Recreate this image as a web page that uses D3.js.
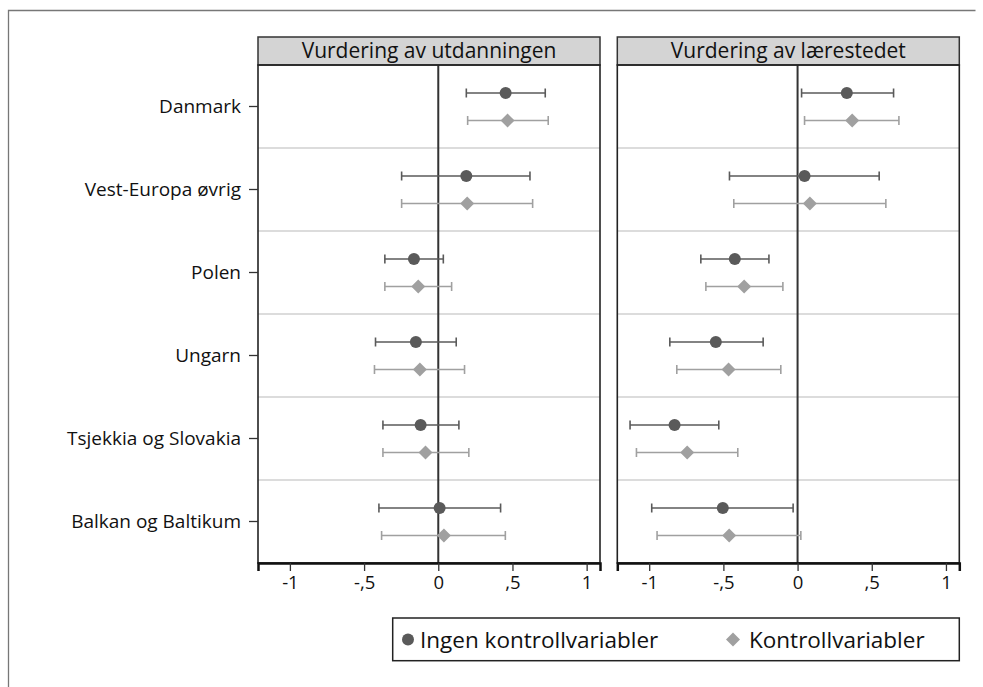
<!DOCTYPE html>
<html>
<head>
<meta charset="utf-8">
<title>Vurdering</title>
<script src="https://d3js.org/d3.v7.min.js"></script>
<style>
  body { margin: 0; background: #fff; }
  text { font-family: "Open Sans", sans-serif; fill: #111; }
</style>
</head>
<body>
<svg id="chart"></svg>
<script>
// rows, top to bottom
var countries = ["Danmark", "Vest-Europa øvrig", "Polen", "Ungarn", "Tsjekkia og Slovakia", "Balkan og Baltikum"];
var panelTitles = ["Vurdering av utdanningen", "Vurdering av lærestedet"];
var seriesNames = ["Ingen kontrollvariabler", "Kontrollvariabler"];
var xTicks = [-1, -0.5, 0, 0.5, 1];

// Vurdering av utdanningen: estimate, lower, upper
var utdEst0 = [0.454, 0.189, -0.164, -0.151, -0.119, 0.009];
var utdLo0  = [0.189, -0.247, -0.360, -0.423, -0.373, -0.400];
var utdHi0  = [0.721, 0.618, 0.034, 0.121, 0.139, 0.420];
var utdEst1 = [0.467, 0.195, -0.135, -0.124, -0.086, 0.038];
var utdLo1  = [0.198, -0.247, -0.360, -0.430, -0.373, -0.382];
var utdHi1  = [0.741, 0.636, 0.090, 0.177, 0.206, 0.452];

// Vurdering av lærestedet
var larEst0 = [0.332, 0.047, -0.423, -0.551, -0.829, -0.504];
var larLo0  = [0.027, -0.459, -0.652, -0.861, -1.129, -0.983];
var larHi0  = [0.647, 0.550, -0.193, -0.232, -0.531, -0.030];
var larEst1 = [0.368, 0.083, -0.360, -0.465, -0.744, -0.461];
var larLo1  = [0.047, -0.430, -0.618, -0.814, -1.086, -0.947];
var larHi1  = [0.683, 0.595, -0.099, -0.113, -0.403, 0.022];

var width = 983, height = 687;
var svg = d3.select("#chart").attr("width", width).attr("height", height);

// outer frame (left + top)
svg.append("path")
  .attr("d", "M8.5," + height + "V10.5H975.5")
  .attr("fill", "none").attr("stroke", "#777").attr("stroke-width", 1.3);

var plotTop = 65, plotBottom = 563, stripTop = 37;
var panelX = [[258, 600], [617.3, 959.3]];
var darkCol = "#5a5a5a", lightCol = "#a0a0a0";

var y = d3.scaleBand().domain(countries).range([plotTop, plotBottom]);

function series(est, lo, hi) {
  return countries.map(function (c, i) { return { c: c, est: est[i], lo: lo[i], hi: hi[i] }; });
}
var panels = [
  [series(utdEst0, utdLo0, utdHi0), series(utdEst1, utdLo1, utdHi1)],
  [series(larEst0, larLo0, larHi0), series(larEst1, larLo1, larHi1)]
];

var fmt = function (d) { return String(d).replace("0.", ","); };
var diamond = d3.symbol().type(d3.symbolDiamond2).size(125);

panels.forEach(function (pdata, p) {
  var x0 = panelX[p][0], x1 = panelX[p][1];
  var x = d3.scaleLinear().domain([-1.215, 1.09]).range([x0, x1]);
  var g = svg.append("g");

  // strip
  g.append("rect").attr("x", x0).attr("y", stripTop).attr("width", x1 - x0).attr("height", plotTop - stripTop)
    .attr("fill", "#d4d4d4").attr("stroke", "#333").attr("stroke-width", 1.5);
  g.append("text").attr("x", (x0 + x1) / 2).attr("y", plotTop - 7).attr("text-anchor", "middle")
    .style("font-size", "21px").text(panelTitles[p]);

  // row separators
  g.selectAll(".sep").data(countries.slice(1)).enter().append("line")
    .attr("x1", x0).attr("x2", x1)
    .attr("y1", function (d) { return y(d); }).attr("y2", function (d) { return y(d); })
    .attr("stroke", "#dcdcdc").attr("stroke-width", 2);

  // zero line
  g.append("line").attr("x1", x(0)).attr("x2", x(0)).attr("y1", plotTop).attr("y2", plotBottom)
    .attr("stroke", "#333").attr("stroke-width", 2);

  // panel border
  g.append("rect").attr("x", x0).attr("y", plotTop).attr("width", x1 - x0).attr("height", plotBottom - plotTop)
    .attr("fill", "none").attr("stroke", "#222").attr("stroke-width", 1.6);

  // x axis
  var ax = g.append("g").attr("transform", "translate(0," + plotBottom + ")")
    .call(d3.axisBottom(x).tickValues(xTicks).tickFormat(fmt).tickSize(8).tickPadding(5));
  ax.select(".domain").attr("stroke", "#111").attr("stroke-width", 2.5);
  ax.selectAll(".tick line").attr("stroke", "#333").attr("stroke-width", 1.3);
  ax.selectAll("text").style("font-size", "18.5px").style("font-family", "'Open Sans', sans-serif").attr("fill", "#111");

  if (p === 0) {
    var ay = g.append("g").attr("transform", "translate(" + x0 + ",0)")
      .call(d3.axisLeft(y).tickSize(9).tickPadding(8));
    ay.select(".domain").remove();
    ay.selectAll(".tick line").attr("stroke", "#333").attr("stroke-width", 1.3);
    ay.selectAll("text").style("font-size", "19px").style("font-family", "'Open Sans', sans-serif").attr("fill", "#111");
  }

  // series: 0 = circle (dark), 1 = diamond (light)
  pdata.forEach(function (sdata, s) {
    var col = s === 0 ? darkCol : lightCol;
    var off = s === 0 ? -13.5 : 14;
    var sg = g.append("g");
    var cy = function (d) { return y(d.c) + y.bandwidth() / 2 + off; };
    sg.selectAll(".ci").data(sdata).enter().append("line")
      .attr("x1", function (d) { return x(d.lo); }).attr("x2", function (d) { return x(d.hi); })
      .attr("y1", cy).attr("y2", cy).attr("stroke", col).attr("stroke-width", 1.6);
    [["lo"], ["hi"]].forEach(function (k) {
      sg.selectAll(".cap" + k[0]).data(sdata).enter().append("line")
        .attr("x1", function (d) { return x(d[k[0]]); }).attr("x2", function (d) { return x(d[k[0]]); })
        .attr("y1", function (d) { return cy(d) - 4.5; }).attr("y2", function (d) { return cy(d) + 4.5; })
        .attr("stroke", col).attr("stroke-width", 1.6);
    });
    if (s === 0) {
      sg.selectAll("circle").data(sdata).enter().append("circle")
        .attr("cx", function (d) { return x(d.est); }).attr("cy", cy).attr("r", 6).attr("fill", col);
    } else {
      sg.selectAll(".dia").data(sdata).enter().append("path")
        .attr("d", diamond)
        .attr("transform", function (d) { return "translate(" + x(d.est) + "," + cy(d) + ")"; })
        .attr("fill", col);
    }
  });
});

// legend
var lg = svg.append("g");
lg.append("rect").attr("x", 392.7).attr("y", 618).attr("width", 566.6).attr("height", 42.7)
  .attr("fill", "#fff").attr("stroke", "#222").attr("stroke-width", 1.5);
lg.append("circle").attr("cx", 408).attr("cy", 639.5).attr("r", 6).attr("fill", darkCol);
lg.append("text").attr("x", 420).attr("y", 647.5).style("font-size", "22.5px").text(seriesNames[0]);
lg.append("path").attr("d", diamond).attr("transform", "translate(733,639.5)").attr("fill", lightCol);
lg.append("text").attr("x", 749).attr("y", 647.5).style("font-size", "22.5px").text(seriesNames[1]);
</script>
</body>
</html>
